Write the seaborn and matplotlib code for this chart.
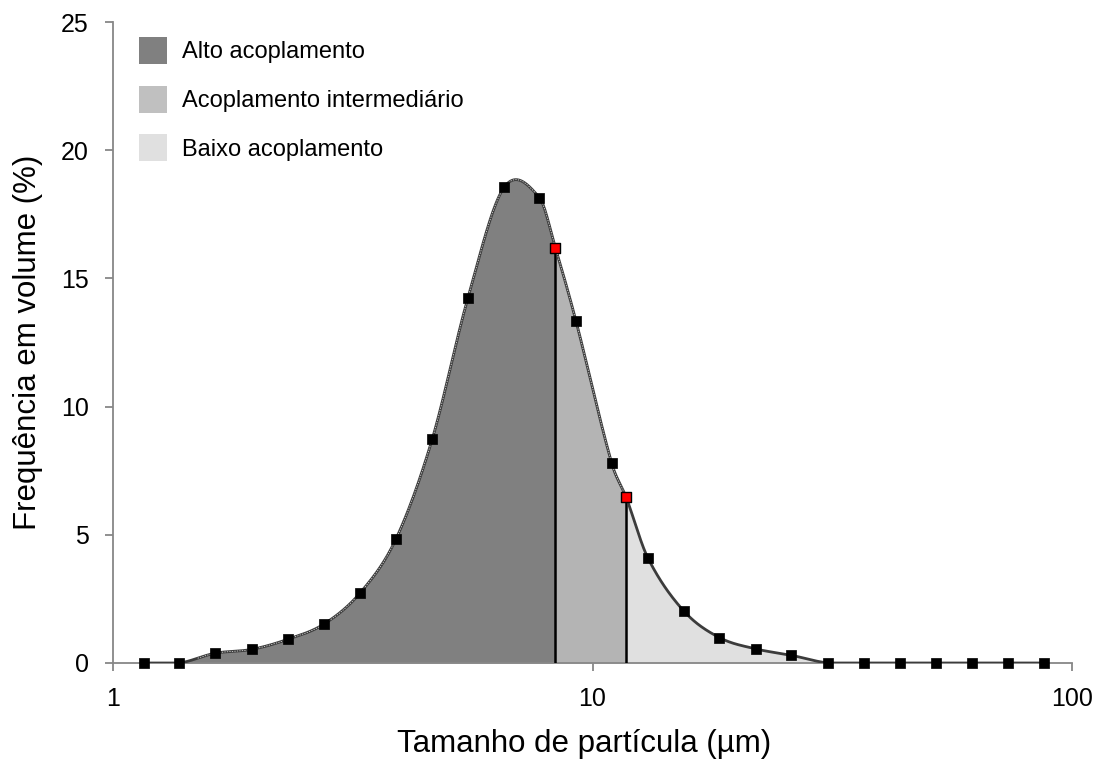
import numpy as np
import pandas as pd
import matplotlib
matplotlib.use("Agg")
import matplotlib.pyplot as plt
import seaborn as sns
from matplotlib.patches import Patch
from matplotlib.ticker import FixedLocator, FixedFormatter, NullLocator

# ---- data ----
size_um = [1.16, 1.376, 1.632, 1.946, 2.312, 2.755, 3.275, 3.89, 4.63, 5.50,
           6.54, 7.75, 9.24, 10.96, 13.06, 15.5, 18.4, 21.9, 26.0, 31.0,
           36.8, 43.7, 52.0, 61.8, 73.5, 87.3]
freq_pct = [0, 0, 0.38, 0.53, 0.92, 1.52, 2.73, 4.83, 8.72, 14.25,
            18.55, 18.15, 13.33, 7.81, 4.08, 2.03, 0.99, 0.55, 0.30, 0,
            0, 0, 0, 0, 0, 0]
cut_size = [8.37, 11.75]
cut_freq = [16.19, 6.47]
legend_labels = ["Alto acoplamento", "Acoplamento intermediário", "Baixo acoplamento"]
fill_colors = ["#808080", "#b4b4b4", "#e0e0e0"]
legend_colors = ["#808080", "#c0c0c0", "#e0e0e0"]
x_ticks = [1, 10, 100]
x_ticklabels = ["1", "10", "100"]
y_ticks = [0, 5, 10, 15, 20, 25]

sns.set_style("white")
plt.rcParams['font.family'] = ['Liberation Sans', 'DejaVu Sans']
plt.rcParams['text.color'] = 'black'
plt.rcParams['axes.labelcolor'] = 'black'

df = pd.DataFrame({"size": size_um, "freq": freq_pct})
cuts = pd.DataFrame({"size": cut_size, "freq": cut_freq})

# smooth curve (cubic Hermite / cardinal spline in log-x) through all points
allpts = pd.concat([df, cuts]).sort_values("size").reset_index(drop=True)
u = np.log10(allpts["size"].values)
y = allpts["freq"].values
n = len(u)
m = np.zeros(n)
for i in range(n):
    if i == 0:
        m[i] = (y[1] - y[0]) / (u[1] - u[0])
    elif i == n - 1:
        m[i] = (y[-1] - y[-2]) / (u[-1] - u[-2])
    else:
        m[i] = (y[i + 1] - y[i - 1]) / (u[i + 1] - u[i - 1])
us, ys = [], []
for i in range(n - 1):
    h = u[i + 1] - u[i]
    t = np.linspace(0, 1, 40)
    h00 = 2 * t**3 - 3 * t**2 + 1
    h10 = t**3 - 2 * t**2 + t
    h01 = -2 * t**3 + 3 * t**2
    h11 = t**3 - t**2
    yy = h00 * y[i] + h10 * h * m[i] + h01 * y[i + 1] + h11 * h * m[i + 1]
    us.append(u[i] + t * h)
    ys.append(yy)
us = np.concatenate(us)
ys = np.maximum(np.concatenate(ys), 0)
xs = 10 ** us

fig = plt.figure(figsize=(10.97, 7.64), dpi=100)
ax = fig.add_axes([113 / 1097, 1 - 663 / 764, (1072 - 113) / 1097, (663 - 22) / 764])
ax.set_xscale("log")

# filled regions
bounds = [xs.min(), cut_size[0], cut_size[1], xs.max()]
for k in range(3):
    mask = (xs >= bounds[k] - 1e-9) & (xs <= bounds[k + 1] + 1e-9)
    ax.fill_between(xs[mask], 0, ys[mask], color=fill_colors[k], lw=0, zorder=1)

# boundary lines
ax.vlines(cut_size, 0, cut_freq, colors="black", lw=1.8, zorder=3)

# curve
ax.plot(xs, ys, color="#3c3c3c", lw=2.0, zorder=4, solid_capstyle="butt")
mask = xs <= cut_size[1] + 1e-9
mask &= xs >= 1.5
ax.plot(xs[mask], ys[mask], color="white", lw=0.6, ls=(0, (1.5, 1.5)), zorder=4.5, alpha=0.8)

# markers
sns.scatterplot(data=df, x="size", y="freq", ax=ax, marker="s", s=45, color="black",
                edgecolor="black", linewidth=0.5, zorder=5, clip_on=False, legend=False)
sns.scatterplot(data=cuts, x="size", y="freq", ax=ax, marker="s", s=45, color="#ff0000",
                edgecolor="black", linewidth=1.0, zorder=6, clip_on=False, legend=False)

ax.set_xlim(1, 100)
ax.set_ylim(0, 25)
ax.xaxis.set_major_locator(FixedLocator(x_ticks))
ax.xaxis.set_major_formatter(FixedFormatter(x_ticklabels))
ax.xaxis.set_minor_locator(NullLocator())
ax.set_yticks(y_ticks)

for s in ["top", "right"]:
    ax.spines[s].set_visible(False)
for s in ["left", "bottom"]:
    ax.spines[s].set_color("#878787")
    ax.spines[s].set_linewidth(1.3)
    ax.spines[s].set_zorder(2)
ax.tick_params(axis="both", direction="out", length=5.5, width=1.3, color="#878787",
               labelsize=18, labelcolor="black", pad=12, left=True, bottom=True)

ax.set_xlabel("Tamanho de partícula (µm)", fontsize=22.5, labelpad=13)
ax.xaxis.label.set_x(0.5 - 8 / 959)
ax.set_ylabel("Frequência em volume (%)", fontsize=22.5, labelpad=13)

handles = [Patch(facecolor=c, edgecolor="none") for c in legend_colors]
leg = ax.legend(handles=handles, labels=legend_labels, loc="upper left",
                bbox_to_anchor=(26 / 959, 1 - 15 / 641), frameon=False, fontsize=17,
                handlelength=1.2, handleheight=1.4, handletextpad=0.6, labelspacing=0.9,
                borderpad=0, borderaxespad=0)
for t in leg.get_texts():
    t.set_color("black")

sns.despine(ax=ax)
fig.savefig("out.png", dpi=100)
